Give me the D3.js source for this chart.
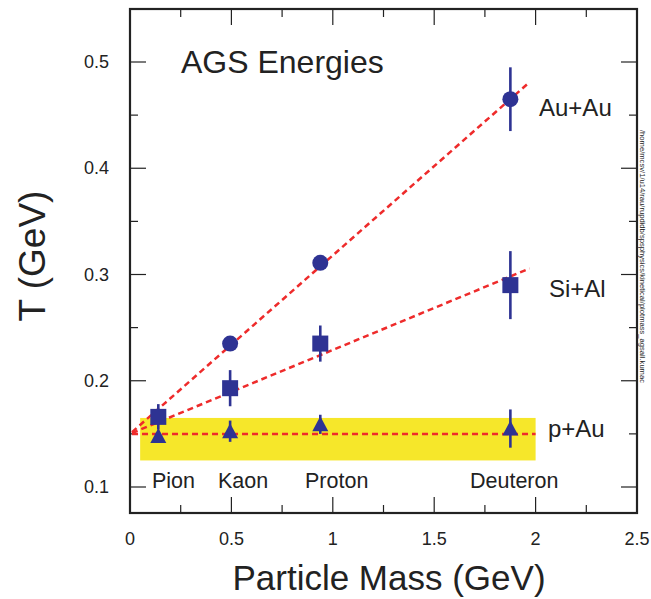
<!DOCTYPE html>
<html><head><meta charset="utf-8">
<script src="https://cdn.jsdelivr.net/npm/d3@7"></script>
<style>body{margin:0;background:#fff}svg{display:block}text{font-family:"Liberation Sans",Arial,sans-serif;fill:#222}</style>
</head><body><div id="c"></div>
<script>
const masses = [0.1396, 0.4937, 0.9383, 1.8756];
const particleLabels = ["Pion", "Kaon", "Proton", "Deuteron"];
const auau = [null, 0.235, 0.311, 0.465];
const auauErr = [0, 0.004, 0.004, 0.03];
const sial = [0.166, 0.193, 0.235, 0.290];
const sialErr = [0.012, 0.017, 0.017, 0.032];
const pau = [0.148, 0.1525, 0.159, 0.155];
const pauErr = [0.005, 0.01, 0.009, 0.018];
const systems = ["Au+Au", "Si+Al", "p+Au"];
const fitIntercept = [0.15, 0.15, 0.15];
const fitSlope = [0.168, 0.079, 0];
const fitXmax = [1.957, 1.97, 2.0];
const bandX = [0.05, 2.0];
const bandY = [0.125, 0.165];
const xTicks = [0, 0.5, 1, 1.5, 2, 2.5];
const yTicks = [0.1, 0.2, 0.3, 0.4, 0.5];

const W = 651, H = 599;
const L = 130, R = 637, T = 9, B = 513;
const x = d3.scaleLinear().domain([0, 2.5]).range([L, R]);
const y = d3.scaleLinear().domain([0.1, 0.5]).range([487, 62]);
const blue = "#2e3393", red = "#ee2b2b", yellow = "#f6e72a";

const svg = d3.select("#c").append("svg").attr("width", W).attr("height", H);

// band
svg.append("rect").attr("x", x(bandX[0])).attr("y", y(bandY[1]))
  .attr("width", x(bandX[1]) - x(bandX[0])).attr("height", y(bandY[0]) - y(bandY[1]))
  .attr("fill", yellow);

// axes with inner ticks
const minorX = d3.range(0, 2.51, 0.25);
const minorY = d3.range(0.1, 0.551, 0.05).map(v => +v.toFixed(2));
const gAx = svg.append("g").attr("stroke", "#222");
function addTicks(vals, len, w) {
  vals.forEach(v => {
    gAx.append("line").attr("x1", x(v)).attr("x2", x(v)).attr("y1", B).attr("y2", B - len).attr("stroke-width", w);
    gAx.append("line").attr("x1", x(v)).attr("x2", x(v)).attr("y1", T).attr("y2", T + len).attr("stroke-width", w);
  });
}
addTicks(minorX.filter(v => Math.abs(v * 2 - Math.round(v * 2)) > 1e-6), 8, 1.2);
addTicks(xTicks, 16, 1.2);
function addYTicks(vals, len, w) {
  vals.forEach(v => {
    gAx.append("line").attr("y1", y(v)).attr("y2", y(v)).attr("x1", L).attr("x2", L + len).attr("stroke-width", w);
    gAx.append("line").attr("y1", y(v)).attr("y2", y(v)).attr("x1", R).attr("x2", R - len).attr("stroke-width", w);
  });
}
addYTicks(minorY.filter(v => Math.abs(v * 10 - Math.round(v * 10)) > 1e-6 && y(v) > T), 8, 1.2);
addYTicks(yTicks, 16, 1.2);

svg.append("rect").attr("x", L).attr("y", T).attr("width", R - L).attr("height", B - T)
  .attr("fill", "none").attr("stroke", "#222").attr("stroke-width", 2.2);

// tick labels
svg.selectAll(".xl").data(xTicks).enter().append("text")
  .attr("x", d => x(d)).attr("y", 545).attr("text-anchor", "middle").attr("font-size", 18)
  .text(d => d3.format("")(d));
svg.selectAll(".yl").data(yTicks).enter().append("text")
  .attr("x", 109).attr("y", d => y(d) + 6).attr("text-anchor", "end").attr("font-size", 18)
  .text(d => d.toFixed(1));

// axis titles
svg.append("text").attr("x", 389).attr("y", 590).attr("text-anchor", "middle").attr("font-size", 35)
  .text("Particle Mass (GeV)");
svg.append("text").attr("transform", "translate(45,256) rotate(-90)").attr("text-anchor", "middle")
  .attr("font-size", 37).text("T (GeV)");

// fit lines
fitSlope.forEach((s, i) => {
  svg.append("line").attr("x1", x(0.01)).attr("y1", y(fitIntercept[i] + s * 0.01))
    .attr("x2", x(fitXmax[i])).attr("y2", y(fitIntercept[i] + s * fitXmax[i]))
    .attr("stroke", red).attr("stroke-width", 2.5).attr("stroke-dasharray", "6,4");
});

// error bars and markers
function errs(vals, e) {
  vals.forEach((v, i) => {
    if (v == null || !e[i]) return;
    svg.append("line").attr("x1", x(masses[i])).attr("x2", x(masses[i]))
      .attr("y1", y(v - e[i])).attr("y2", y(v + e[i])).attr("stroke", blue).attr("stroke-width", 2.6);
  });
}
errs(pau, pauErr); errs(sial, sialErr); errs(auau, auauErr);

pau.forEach((v, i) => {
  const cx = x(masses[i]), cy = y(v);
  svg.append("path").attr("d", `M${cx},${cy - 8}L${cx + 8},${cy + 7}L${cx - 8},${cy + 7}Z`).attr("fill", blue);
});
sial.forEach((v, i) => {
  svg.append("rect").attr("x", x(masses[i]) - 8).attr("y", y(v) - 8).attr("width", 16).attr("height", 16).attr("fill", blue);
});
auau.forEach((v, i) => {
  if (v == null) return;
  svg.append("circle").attr("cx", x(masses[i])).attr("cy", y(v)).attr("r", 8).attr("fill", blue);
});

// labels
svg.append("text").attr("x", 181).attr("y", 73).attr("font-size", 32).text("AGS Energies");
const sysPos = [[539, 116], [549, 297], [548, 437]];
systems.forEach((s, i) => svg.append("text").attr("x", sysPos[i][0]).attr("y", sysPos[i][1]).attr("font-size", 24).text(s));
const partX = [152, 218, 305, 470];
particleLabels.forEach((p, i) => svg.append("text").attr("x", partX[i]).attr("y", 488).attr("font-size", 21.5).text(p));

// path stamp
svg.append("text").attr("transform", "translate(640,130) rotate(90)").attr("font-size", 6.8)
  .attr("textLength", 253).attr("lengthAdjust", "spacingAndGlyphs").attr("fill", "#444")
  .text("/home/mcsv/1/u14/rau/rupdidb/spsphysics/kinetical/plotmass_agsall.kumac");
</script></body></html>
